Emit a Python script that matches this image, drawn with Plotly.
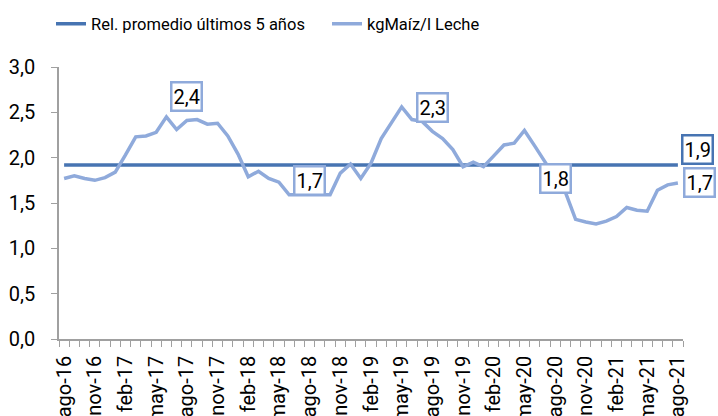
import plotly.graph_objects as go

months = ["ago-16","sep-16","oct-16","nov-16","dic-16","ene-17","feb-17","mar-17","abr-17","may-17","jun-17","jul-17",
          "ago-17","sep-17","oct-17","nov-17","dic-17","ene-18","feb-18","mar-18","abr-18","may-18","jun-18","jul-18",
          "ago-18","sep-18","oct-18","nov-18","dic-18","ene-19","feb-19","mar-19","abr-19","may-19","jun-19","jul-19",
          "ago-19","sep-19","oct-19","nov-19","dic-19","ene-20","feb-20","mar-20","abr-20","may-20","jun-20","jul-20",
          "ago-20","sep-20","oct-20","nov-20","dic-20","ene-21","feb-21","mar-21","abr-21","may-21","jun-21","jul-21",
          "ago-21"]

maiz_leche = [1.77,1.80,1.77,1.75,1.78,1.84,2.03,2.23,2.24,2.28,2.45,2.31,
              2.41,2.42,2.37,2.38,2.24,2.04,1.79,1.85,1.77,1.73,1.59,1.59,
              1.59,1.59,1.59,1.83,1.93,1.77,1.94,2.21,2.39,2.56,2.42,2.40,
              2.29,2.21,2.09,1.90,1.95,1.90,2.02,2.14,2.16,2.30,2.13,1.95,
              1.78,1.62,1.32,1.29,1.27,1.30,1.35,1.45,1.42,1.41,1.64,1.70,
              1.72]

promedio_5 = 1.92
promedio = [promedio_5] * len(months)

label_idx = [12, 24, 36, 48]
label_txt = ["2,4", "1,7", "2,3", "1,8"]
label_y = [2.67, 1.75, 2.55, 1.77]

DARK = "#4774B2"
LIGHT = "#8FAADB"

x = list(range(len(months)))

fig = go.Figure()
fig.add_trace(go.Scatter(x=x, y=promedio, mode="lines", name="Rel. promedio últimos 5 años",
                         line=dict(color=DARK, width=3.5)))
fig.add_trace(go.Scatter(x=x, y=maiz_leche, mode="lines", name="kgMaíz/l Leche",
                         line=dict(color=LIGHT, width=3.5)))

ann = []
for i, t, yv in zip(label_idx, label_txt, label_y):
    ann.append(dict(x=i, y=yv, xref="x", yref="y", text=t, showarrow=False,
                    font=dict(size=20, color="black"), bgcolor="white",
                    bordercolor=LIGHT, borderwidth=2.5, borderpad=1))
ann.append(dict(x=x[-1], y=2.09, xref="x", yref="y", text="1,9", showarrow=False, xshift=20,
                font=dict(size=20, color="black"), bgcolor="white",
                bordercolor=DARK, borderwidth=2.5, borderpad=1))
ann.append(dict(x=x[-1], y=1.73, xref="x", yref="y", text="1,7", showarrow=False, xshift=22,
                font=dict(size=20, color="black"), bgcolor="white",
                bordercolor=LIGHT, borderwidth=2.5, borderpad=1))

fig.update_layout(
    width=718, height=416,
    margin=dict(l=59, r=35, t=67, b=77),
    paper_bgcolor="white", plot_bgcolor="white",
    font=dict(family="Roboto", size=20, color="black"),
    separators=",.",
    showlegend=True,
    legend=dict(orientation="h", xref="container", yref="container",
                x=51 / 718, xanchor="left", y=1 - 24 / 416, yanchor="middle",
                entrywidth=231, entrywidthmode="pixels",
                font=dict(size=16.5, family="Roboto"),
                bgcolor="rgba(0,0,0,0)"),
    annotations=ann,
)
fig.update_xaxes(range=[-0.5, len(months) - 0.5], tickmode="array",
                 tickvals=x[::3], ticktext=months[::3], tickangle=-90,
                 ticks="", showgrid=False, zeroline=False, showline=True, automargin=False,
                 linecolor="#A0A0A0", linewidth=1.5, tickfont=dict(size=20),
                 ticklabelstandoff=7,
                 minor=dict(ticks="outside", tick0=-0.5, dtick=1, ticklen=6,
                            tickcolor="#A0A0A0", tickwidth=1.2, showgrid=False))
fig.update_yaxes(range=[0, 3], tickvals=[0, 0.5, 1, 1.5, 2, 2.5, 3], tickformat=".1f",
                 ticks="outside", ticklen=6, tickcolor="#A0A0A0", tickwidth=1.2,
                 showgrid=False, zeroline=False, showline=True, linecolor="#A0A0A0",
                 linewidth=1.5, tickfont=dict(size=20), automargin=False,
                 ticklabelstandoff=12)

fig.write_html("out.html", config={"displayModeBar": False},
               post_script="document.body.style.margin='0px';")
